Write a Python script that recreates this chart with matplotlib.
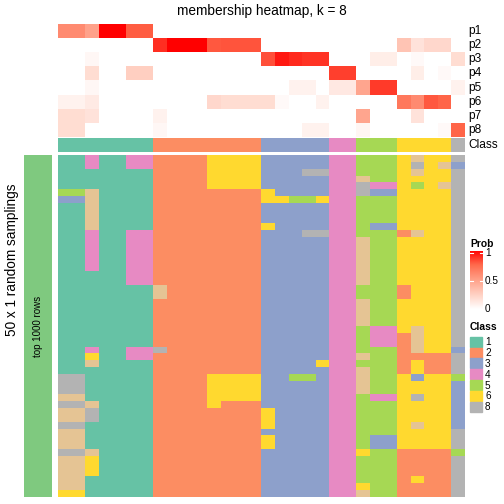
import numpy as np
import matplotlib.pyplot as plt
from matplotlib.colors import ListedColormap, LinearSegmentedColormap
from matplotlib.patches import Rectangle

plt.rcParams['font.family'] = ['Liberation Sans', 'DejaVu Sans']

W = H = 504  # figure size in pixels

# class colours (class 7 only shows up in the samplings)
class_colors = ['#66C2A5', '#FC8D62', '#8DA0CB', '#E78AC3',
                '#A6D854', '#FFD92F', '#E5C494', '#B3B3B3']
legend_classes = [1, 2, 3, 4, 5, 6, 8]

# consensus class of the 30 columns
consensus = "1111111 22222222 33333 44 555 6666 8"

# membership probabilities p1..p8, one value per column
p1 = [0.60, 0.60, 0.49, 1.00, 1.00, 0.78, 0.78, 0, 0, 0, 0, 0, 0, 0, 0,
      0, 0, 0, 0, 0, 0, 0, 0, 0, 0, 0, 0, 0, 0, 0]
p2 = [0, 0, 0, 0, 0, 0, 0, 0.89, 1.00, 1.00, 1.00, 0.79, 0.80, 0.80, 0.80,
      0, 0, 0, 0, 0, 0, 0, 0, 0, 0, 0.31, 0.15, 0.21, 0.21, 0]
p3 = [0, 0, 0.04, 0, 0, 0, 0, 0, 0, 0, 0, 0, 0, 0, 0,
      0.81, 0.94, 0.90, 0.875, 0.875, 0, 0, 0, 0.09, 0.09, 0, 0.03, 0, 0, 0.18]
p4 = [0, 0, 0.18, 0, 0, 0.25, 0.25, 0, 0, 0, 0, 0, 0, 0, 0,
      0, 0, 0, 0, 0, 0.85, 0.85, 0, 0, 0, 0, 0.09, 0, 0.03, 0]
p5 = [0, 0, 0.04, 0, 0, 0, 0, 0, 0, 0, 0, 0, 0, 0, 0,
      0, 0, 0.07, 0.07, 0, 0.12, 0.12, 0.47, 0.86, 0.86, 0, 0, 0, 0, 0.07]
p6 = [0.07, 0.07, 0.11, 0, 0, 0, 0, 0, 0, 0, 0, 0.21, 0.18, 0.18, 0.18,
      0.18, 0.03, 0, 0, 0.07, 0, 0, 0, 0, 0, 0.68, 0.60, 0.79, 0.76, 0]
p7 = [0.18, 0.18, 0.15, 0, 0, 0, 0, 0.07, 0, 0, 0, 0, 0, 0, 0,
      0, 0, 0, 0, 0, 0, 0, 0.47, 0, 0, 0, 0.15, 0, 0, 0]
p8 = [0.18, 0.18, 0, 0, 0, 0, 0, 0.04, 0, 0, 0, 0, 0, 0, 0,
      0, 0, 0, 0.07, 0.07, 0, 0, 0.05, 0, 0, 0, 0, 0, 0.03, 0.76]
prob_labels = ['p1', 'p2', 'p3', 'p4', 'p5', 'p6', 'p7', 'p8']

# class of each column in the 50 random samplings
samplings = [
    "1141144 22226666 33333 44 555 6766 8",
    "1141144 22226666 33333 44 555 6867 3",
    "1111111 22226666 33388 44 555 6766 8",
    "1111111 22226666 33333 44 755 6666 8",
    "1111111 22226666 33333 44 844 6567 8",
    "5571111 22222222 63333 44 833 6666 8",
    "3371111 22222222 66556 44 555 6666 8",
    "1171111 22222222 33333 44 555 6666 8",
    "1171111 22222222 33333 44 555 6666 8",
    "1171111 22222222 33333 44 555 6666 8",
    "1171111 22222222 63333 44 533 6666 8",
    "1141144 22222222 33388 44 555 2766 8",
    "1141144 22222222 33333 44 755 6666 8",
    "1141144 22222222 33333 44 755 6666 8",
    "1141144 22222222 33333 44 755 6666 8",
    "1141144 22222222 33333 44 755 6666 8",
    "1141144 22222222 33333 44 755 6666 8",
    "1111144 22222222 33333 44 755 6666 8",
    "1111144 22222222 33333 44 755 6666 8",
    "1111111 72222222 33333 44 555 2666 8",
    "1111111 72222222 33333 44 555 2666 8",
    "1111111 22222222 33333 44 755 6666 8",
    "1111111 22222222 33333 44 755 6666 8",
    "1111111 22222222 33333 44 755 6666 8",
    "1111111 22222222 33333 44 755 6666 8",
    "1111111 22222222 33333 44 544 6766 8",
    "1111111 22222222 33333 44 544 2766 8",
    "1111111 22222222 33333 44 544 2766 8",
    "1141144 82222222 33333 44 555 2766 3",
    "1161144 22222222 33333 44 755 2222 8",
    "1171111 22222222 33336 44 555 2622 8",
    "1111111 22222222 33333 44 755 2622 8",
    "8811111 22226666 33553 44 755 6366 5",
    "8811111 22226666 33333 44 755 6666 3",
    "8811111 22226666 33333 44 755 6666 3",
    "7711111 22226666 33333 44 544 6866 3",
    "8871111 22226222 33333 44 555 6666 3",
    "7781111 22222222 63333 44 555 6666 3",
    "7781111 22222222 63333 44 555 6666 3",
    "8811111 22222222 63333 44 555 6766 3",
    "7711111 22222222 33333 44 555 6666 8",
    "7711111 22222222 63333 44 533 6666 8",
    "7711111 22222222 63333 44 533 6666 8",
    "8871111 22222222 33333 44 655 2222 5",
    "7761111 22222222 33333 44 555 2222 8",
    "7761111 22222222 33333 44 555 2222 8",
    "7761111 22222222 33333 44 555 2222 8",
    "7711111 22222222 33333 44 555 2622 8",
    "7711111 22222222 33333 44 655 2222 8",
    "6611111 22222222 33333 44 755 2222 8",
]


def to_ints(s):
    return [int(c) for c in s.replace(' ', '')]


def box(x0, y0, x1, y1):
    """pixel box (top-left origin) -> figure fraction rect"""
    return [x0 / W, 1 - y1 / H, (x1 - x0) / W, (y1 - y0) / H]


def fx(x):
    return x / W


def fy(y):
    return 1 - y / H


class_cmap = ListedColormap(class_colors)
prob_cmap = LinearSegmentedColormap.from_list(
    'prob', [(0, '#FFFFFF'), (0.25, '#FFD0C2'), (0.5, '#FFA088'),
             (0.75, '#FF6A4C'), (1, '#FF0000')])

fig = plt.figure(figsize=(W / 100, H / 100), dpi=100)

# membership heatmap
prob = np.array([p1, p2, p3, p4, p5, p6, p7, p8])
ax_p = fig.add_axes(box(58, 24, 465, 137))
ax_p.imshow(prob, cmap=prob_cmap, vmin=0, vmax=1, aspect='auto',
            interpolation='nearest')
ax_p.axis('off')
row_h = (137 - 24) / len(prob_labels)
for i, lab in enumerate(prob_labels):
    fig.text(fx(468), fy(24 + row_h * (i + 0.5)), lab, fontsize=8.6,
             ha='left', va='center')

# consensus class bar
ax_c = fig.add_axes(box(58, 138, 465, 152))
ax_c.imshow(np.array([to_ints(consensus)]), cmap=class_cmap, vmin=0.5,
            vmax=8.5, aspect='auto', interpolation='nearest')
ax_c.axis('off')
fig.text(fx(468), fy(145), 'Class', fontsize=8.6, ha='left', va='center')

# random samplings
samp = np.array([to_ints(s) for s in samplings])
ax_m = fig.add_axes(box(58, 155, 465, 497))
ax_m.imshow(samp, cmap=class_cmap, vmin=0.5, vmax=8.5, aspect='auto',
            interpolation='nearest')
ax_m.axis('off')

# left annotation bar
ax_l = fig.add_axes(box(24, 155, 52, 497))
ax_l.add_patch(Rectangle((0, 0), 1, 1, color='#7FC97F'))
ax_l.set_xlim(0, 1)
ax_l.set_ylim(0, 1)
ax_l.axis('off')
ax_l.text(0.5, 0.5, 'top 1000 rows', rotation=90, fontsize=7,
          ha='center', va='center')

fig.text(fx(12), fy(260), '50 x 1 random samplings', rotation=90,
         fontsize=9.8, ha='center', va='center')
fig.text(fx(261.5), fy(11), 'membership heatmap, k = 8', fontsize=9.8,
         ha='center', va='center')

# Prob legend
fig.text(fx(470), fy(243.5), 'Prob', fontsize=7.4, fontweight='bold',
         ha='left', va='center')
ax_g = fig.add_axes(box(470, 251, 483, 309))
grad = np.linspace(0, 1, 256).reshape(-1, 1)
ax_g.imshow(grad, cmap=prob_cmap, vmin=0, vmax=1, aspect='auto',
            origin='lower', extent=(0, 1, 0, 1.035))
for v in [0.5, 1.0]:
    ax_g.plot([0, 0.22], [v, v], color='white', lw=0.8)
    ax_g.plot([0.78, 1], [v, v], color='white', lw=0.8)
ax_g.set_xlim(0, 1)
ax_g.set_ylim(0, 1.035)
ax_g.axis('off')
for v, t in [(0, '0'), (0.5, '0.5'), (1, '1')]:
    fig.text(fx(485), fy(309 - v * 56.3), t, fontsize=7.2, ha='left',
             va='center')

# Class legend
fig.text(fx(470), fy(327), 'Class', fontsize=7.4, fontweight='bold',
         ha='left', va='center')
box_h = 10.86
for i, k in enumerate(legend_classes):
    y0 = 336.7 + i * box_h
    fig.patches.append(Rectangle((fx(470), fy(y0 + box_h - 0.8)),
                                 12 / W, (box_h - 0.8) / H,
                                 color=class_colors[k - 1],
                                 transform=fig.transFigure, figure=fig))
    fig.text(fx(485), fy(y0 + box_h / 2), str(k), fontsize=7.2,
             ha='left', va='center')

fig.savefig('out.png', dpi=100)
